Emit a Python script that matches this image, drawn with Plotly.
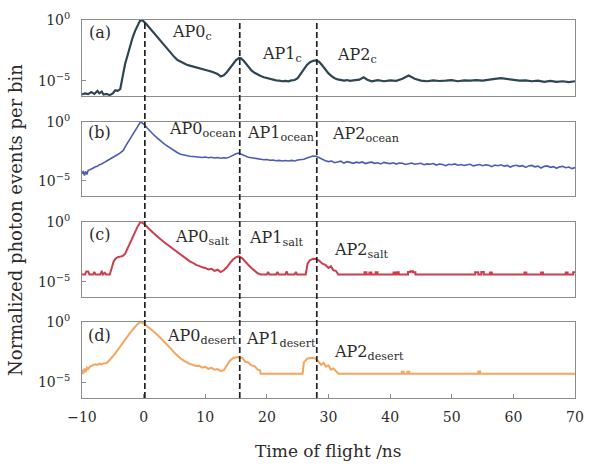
import plotly.graph_objects as go

# ---------------- data: time of flight (ns) and log10(normalized events per bin) ----------------
time_c = [-10.0, -9.5, -9.0, -8.5, -8.0, -7.5, -7.2, -6.8, -6.5, -6.0, -5.5, -5.0, -4.6, -4.2, -3.8,
          -3.4, -3.0, -2.6, -2.2, -1.8, -1.4, -1.0, -0.6, -0.3, 0.0, 0.5, 1.0, 1.5, 2.0, 2.5, 3.0,
          3.5, 4.0, 4.5, 5.0, 5.5, 6.0, 6.5, 7.0, 7.5, 8.0, 8.5, 9.0, 9.5, 10.0, 10.5, 11.0, 11.5,
          12.0, 12.5, 13.0, 13.5, 14.0, 14.5, 15.0, 15.5, 15.8, 16.3, 17.0, 17.5, 18.0, 18.5, 19.0,
          19.5, 20.0, 20.5, 21.0, 21.5, 22.0, 22.5, 23.0, 23.5, 24.0, 24.5, 25.0, 25.5, 26.0, 26.5,
          27.0, 27.5, 28.0, 28.5, 29.0, 29.5, 30.0, 30.5, 31.0, 31.5, 32.0, 32.5, 33.0, 33.5, 34.0,
          35.0, 35.7, 36.3, 37.0, 38.0, 39.0, 40.0, 41.0, 42.0, 43.0, 44.0, 45.0, 46.0, 47.0, 48.0,
          49.0, 50.0, 51.0, 52.0, 53.0, 54.0, 55.0, 56.0, 57.0, 58.0, 59.0, 60.0, 61.0, 62.0, 63.0,
          64.0, 65.0, 66.0, 67.0, 68.0, 69.0, 70.0]
log_c = [-6.15, -6.05, -6.12, -5.95, -6.10, -5.85, -6.05, -5.90, -6.15, -6.10, -6.20, -6.05, -5.80,
         -5.85, -5.70, -4.60, -3.60, -2.90, -2.10, -1.45, -0.90, -0.40, -0.05, 0.0, -0.10, -0.35,
         -0.65, -0.95, -1.25, -1.60, -1.90, -2.20, -2.50, -2.80, -3.05, -3.30, -3.45, -3.58, -3.68,
         -3.76, -3.84, -3.90, -3.97, -4.03, -4.10, -4.18, -4.25, -4.32, -4.45, -4.65, -4.55, -4.30,
         -3.95, -3.60, -3.30, -3.12, -3.15, -3.40, -3.90, -4.15, -4.35, -4.50, -4.62, -4.72, -4.80,
         -4.86, -4.92, -4.98, -5.00, -5.05, -5.02, -5.06, -4.98, -4.95, -4.80, -4.45, -4.05, -3.70,
         -3.48, -3.35, -3.32, -3.45, -3.75, -4.10, -4.40, -4.62, -4.80, -4.90, -4.95, -5.00, -4.95,
         -5.02, -4.98, -4.92, -4.72, -4.92, -5.05, -4.95, -5.05, -4.98, -5.02, -4.85, -4.58, -4.85,
         -5.00, -5.05, -4.98, -5.03, -5.00, -4.95, -5.05, -4.98, -5.00, -4.96, -5.00, -4.90, -4.85,
         -4.80, -4.88, -4.95, -5.00, -4.98, -5.05, -5.00, -5.10, -5.02, -5.10, -5.05, -5.12, -5.05]

time_ocean = [-10.0, -9.8, -9.6, -9.4, -9.2, -9.0, -8.7, -8.4, -8.1, -7.8, -7.5, -7.2, -6.9, -6.6,
              -6.3, -6.0, -5.7, -5.4, -5.1, -4.8, -4.5, -4.2, -3.9, -3.6, -3.3, -3.0, -2.6, -2.2,
              -1.8, -1.4, -1.0, -0.6, -0.4, 0.0, 0.5, 1.0, 1.5, 2.0, 2.5, 3.0, 3.5, 4.0, 4.5, 5.0,
              5.5, 6.0, 6.5, 7.0, 7.5, 8.0, 8.5, 9.0, 9.5, 10.0, 10.5, 11.0, 11.5, 12.0, 12.5, 13.0,
              13.5, 14.0, 14.5, 15.0, 15.4, 15.8, 16.3, 17.0, 17.5, 18.0, 18.5, 19.0, 19.5, 20.0,
              20.5, 21.0, 21.5, 22.0, 22.5, 23.0, 23.5, 24.0, 24.5, 25.0, 25.5, 26.0, 26.5, 27.0,
              27.5, 28.0, 28.5, 29.0, 29.5, 30.0, 30.5, 31.0, 31.5, 32.0, 32.5, 33.0, 33.5, 34.0,
              34.5, 35.0, 35.5, 36.0, 36.5, 37.0, 37.5, 38.0, 38.5, 39.0, 39.5, 40.0, 40.5, 41.0,
              41.5, 42.0, 42.5, 43.0, 43.5, 44.0, 44.5, 45.0, 45.5, 46.0, 46.5, 47.0, 47.5, 48.0,
              48.5, 49.0, 49.5, 50.0, 50.5, 51.0, 51.5, 52.0, 52.5, 53.0, 53.5, 54.0, 54.5, 55.0,
              55.5, 56.0, 56.5, 57.0, 57.5, 58.0, 58.5, 59.0, 59.5, 60.0, 60.5, 61.0, 61.5, 62.0,
              62.5, 63.0, 63.5, 64.0, 64.5, 65.0, 65.5, 66.0, 66.5, 67.0, 67.5, 68.0, 68.5, 69.0,
              69.5, 70.0]
log_ocean = [-4.40, -4.15, -4.55, -4.20, -4.45, -4.10, -4.05, -3.95, -3.90, -3.80, -3.75, -3.62,
             -3.58, -3.45, -3.40, -3.30, -3.22, -3.10, -3.02, -2.95, -2.85, -2.75, -2.65, -2.55,
             -2.40, -2.10, -1.75, -1.40, -1.05, -0.70, -0.35, -0.05, 0.0, -0.15, -0.45, -0.75,
             -1.00, -1.25, -1.50, -1.70, -1.90, -2.08, -2.25, -2.45, -2.60, -2.72, -2.80, -2.86,
             -2.90, -2.92, -2.95, -2.93, -3.00, -2.96, -3.02, -2.98, -3.05, -3.00, -3.06, -3.03,
             -3.05, -2.95, -2.80, -2.68, -2.62, -2.70, -2.85, -2.98, -3.02, -3.08, -3.12, -3.15,
             -3.20, -3.18, -3.24, -3.22, -3.28, -3.25, -3.30, -3.26, -3.30, -3.25, -3.30, -3.22,
             -3.20, -3.15, -3.05, -2.95, -2.88, -2.90, -3.05, -3.20, -3.28, -3.35, -3.30, -3.45,
             -3.38, -3.32, -3.48, -3.36, -3.42, -3.50, -3.40, -3.46, -3.38, -3.52, -3.44, -3.40,
             -3.50, -3.45, -3.55, -3.42, -3.48, -3.52, -3.45, -3.56, -3.48, -3.50, -3.60, -3.52,
             -3.47, -3.58, -3.54, -3.50, -3.62, -3.55, -3.58, -3.52, -3.65, -3.56, -3.60, -3.70,
             -3.58, -3.62, -3.55, -3.66, -3.60, -3.68, -3.62, -3.58, -3.72, -3.64, -3.60, -3.70,
             -3.63, -3.66, -3.78, -3.65, -3.70, -3.62, -3.74, -3.68, -3.82, -3.70, -3.66, -3.76,
             -3.70, -3.85, -3.72, -3.68, -3.80, -3.74, -3.90, -3.76, -3.72, -3.84, -3.78, -3.92,
             -3.80, -3.76, -3.88, -3.82, -3.95, -3.86]

time_salt = [-10.0, -9.5, -9.3, -9.0, -8.8, -8.2, -8.0, -7.8, -7.0, -6.8, -6.6, -6.3, -6.1, -5.5,
             -5.2, -4.9, -4.6, -4.2, -3.8, -3.4, -3.0, -2.6, -2.2, -1.8, -1.4, -1.0, -0.6, -0.4,
             0.0, 0.5, 1.0, 1.5, 2.0, 2.5, 3.0, 3.5, 4.0, 4.5, 5.0, 5.5, 6.0, 6.5, 7.0, 7.5, 8.0,
             8.5, 9.0, 9.5, 10.0, 10.5, 11.0, 11.5, 12.0, 12.5, 13.0, 13.5, 14.0, 14.5, 15.0, 15.5,
             16.0, 16.5, 17.0, 17.5, 18.0, 18.5, 19.0, 20.0, 20.2, 20.4, 21.5, 21.7, 21.9, 23.0,
             23.2, 23.4, 24.5, 24.7, 24.9, 26.3, 26.6, 27.0, 27.5, 28.0, 28.5, 29.0, 29.5, 30.0,
             30.4, 30.8, 31.2, 31.6, 35.85, 35.85, 36.15, 36.15, 36.65, 36.65, 36.95, 36.95, 37.65,
             37.65, 37.95, 37.95, 40.55, 40.55, 40.85, 40.85, 41.1, 41.1, 41.4, 41.4, 42.9, 42.9,
             43.3, 43.3, 43.7, 43.7, 44.1, 44.1, 53.8, 53.8, 54.3, 54.3, 54.8, 54.8, 55.2, 55.2,
             56.2, 56.2, 56.5, 56.5, 61.8, 61.8, 62.1, 62.1, 64.5, 64.5, 64.8, 64.8, 68.5, 68.5,
             68.8, 68.8, 69.7, 69.7, 70.0]
log_salt = [-4.40, -4.40, -4.15, -4.15, -4.40, -4.40, -4.20, -4.40, -4.40, -4.10, -4.40, -4.25,
            -4.40, -4.40, -3.90, -3.35, -3.10, -2.95, -2.90, -2.85, -2.65, -2.20, -1.75, -1.25,
            -0.80, -0.40, -0.05, 0.0, -0.12, -0.40, -0.65, -0.88, -1.10, -1.35, -1.55, -1.75,
            -1.95, -2.15, -2.35, -2.55, -2.75, -2.95, -3.10, -3.30, -3.42, -3.60, -3.68, -3.80,
            -3.85, -3.98, -3.92, -4.10, -4.00, -4.20, -4.05, -3.80, -3.45, -3.15, -2.95, -2.88,
            -3.05, -3.35, -3.60, -3.85, -4.05, -4.30, -4.40, -4.40, -4.20, -4.40, -4.40, -4.20,
            -4.40, -4.40, -4.15, -4.40, -4.40, -4.20, -4.40, -4.40, -3.50, -3.20, -3.08, -3.10,
            -3.25, -3.50, -3.60, -3.85, -3.70, -4.05, -4.10, -4.40, -4.40, -4.22, -4.22, -4.40,
            -4.40, -4.24, -4.24, -4.40, -4.40, -4.22, -4.22, -4.40, -4.40, -4.24, -4.24, -4.40,
            -4.40, -4.22, -4.22, -4.40, -4.40, -4.20, -4.20, -4.12, -4.12, -4.22, -4.22, -4.40,
            -4.40, -4.22, -4.22, -4.40, -4.40, -4.20, -4.20, -4.40, -4.40, -4.24, -4.24, -4.40,
            -4.40, -4.24, -4.24, -4.40, -4.40, -4.24, -4.24, -4.40, -4.40, -4.24, -4.24, -4.40,
            -4.40, -4.22, -4.22]

time_desert = [-10.0, -9.8, -9.6, -9.4, -9.2, -9.0, -8.7, -8.4, -8.1, -7.8, -7.5, -7.2, -6.9, -6.6,
               -6.3, -6.0, -5.7, -5.4, -5.0, -4.6, -4.2, -3.8, -3.4, -3.0, -2.6, -2.2, -1.8, -1.4,
               -1.0, -0.6, -0.4, 0.0, 0.5, 1.0, 1.5, 2.0, 2.5, 3.0, 3.5, 4.0, 4.5, 5.0, 5.5, 6.0,
               6.5, 7.0, 7.5, 8.0, 8.5, 9.0, 9.5, 10.0, 10.5, 11.0, 11.5, 12.0, 12.5, 13.0, 13.5,
               14.0, 14.5, 15.0, 15.5, 16.0, 16.5, 17.0, 17.5, 18.0, 18.5, 18.9, 19.0, 25.8, 26.0,
               26.5, 27.0, 27.5, 28.0, 28.4, 28.8, 29.2, 29.6, 30.0, 30.4, 30.8, 31.2, 31.6, 41.9,
               41.9, 42.2, 42.2, 42.8, 42.8, 43.1, 43.1, 54.3, 54.3, 54.6, 54.6, 70.0]
log_desert = [-3.95, -4.30, -3.85, -4.15, -3.80, -3.90, -3.70, -3.60, -3.55, -3.50, -3.55, -3.45,
              -3.52, -3.45, -3.42, -3.40, -3.25, -3.10, -2.85, -2.60, -2.30, -2.00, -1.75, -1.50,
              -1.20, -0.90, -0.65, -0.40, -0.18, -0.02, 0.0, -0.10, -0.30, -0.50, -0.72, -0.95,
              -1.20, -1.45, -1.72, -2.00, -2.25, -2.55, -2.80, -3.02, -3.20, -3.35, -3.48, -3.55,
              -3.65, -3.62, -3.78, -3.72, -3.88, -3.80, -3.95, -3.90, -4.05, -4.00, -3.55, -3.20,
              -3.00, -2.92, -2.92, -2.98, -3.30, -3.35, -3.60, -3.65, -3.95, -4.00, -4.28, -4.28,
              -3.35, -3.05, -2.98, -2.97, -3.05, -3.30, -3.55, -3.40, -3.70, -3.60, -3.95, -3.85,
              -4.05, -4.28, -4.28, -4.12, -4.12, -4.28, -4.28, -4.12, -4.12, -4.28, -4.28, -4.10,
              -4.10, -4.28, -4.28]

# afterpulse positions (ns)
afterpulse_times = [0.2, 15.6, 28.1]

panel_tags = ["(a)", "(b)", "(c)", "(d)"]
series_names = ["c", "ocean", "salt", "desert"]
line_colors = ["#2d4652", "#4a5cb3", "#cf3c4c", "#f6a55c"]
line_widths = [2.2, 1.6, 2.0, 2.0]

# label anchors: (time, log10 value) for AP0/AP1/AP2 of each panel
ap_label_t = [[4.3, 18.9, 31.1], [3.8, 16.5, 30.3], [4.8, 16.8, 30.6], [3.5, 16.25, 30.6]]
ap_label_v = [[-0.98, -2.86, -2.94], [-0.64, -0.92, -1.03], [-1.27, -1.41, -2.40], [-1.20, -1.47, -2.51]]
tag_v = [-0.98, -0.84, -1.05, -1.12]

x_ticks = [-10, 0, 10, 20, 30, 40, 50, 60, 70]
x_ticktext = ["\u221210", "0", "10", "20", "30", "40", "50", "60", "70"]

times = [time_c, time_ocean, time_salt, time_desert]
logs = [log_c, log_ocean, log_salt, log_desert]

FONT = "DejaVu Serif"
TXT = "#2b2b2b"
domains = [[0.798, 1.0], [0.534, 0.730], [0.267, 0.466], [0.0, 0.2016]]
BOX = "#8c8c8c"

fig = go.Figure()
layout = dict(
    width=594, height=469,
    margin=dict(l=82, r=10, t=16, b=71),
    paper_bgcolor="white", plot_bgcolor="white",
    showlegend=False,
    font=dict(family=FONT, size=15, color=TXT),
)

annotations = []
for i in range(4):
    n = i + 1
    xs = "x" if n == 1 else f"x{n}"
    ys = "y" if n == 1 else f"y{n}"
    fig.add_trace(go.Scatter(
        x=times[i], y=[10 ** v for v in logs[i]], mode="lines",
        line=dict(color=line_colors[i], width=line_widths[i]),
        xaxis=xs, yaxis=ys, hoverinfo="skip",
    ))
    bottom = (n == 4)
    layout[f"xaxis{'' if n == 1 else n}"] = dict(
        range=[-10, 70], domain=[0, 1], anchor=ys,
        showline=True, mirror=True, linecolor=BOX, linewidth=1,
        showgrid=False, zeroline=False,
        tickvals=x_ticks, ticktext=x_ticktext,
        ticks="inside" if bottom else "", ticklen=4, tickcolor=BOX,
        showticklabels=bottom, ticklabelstandoff=6,
        tickfont=dict(family=FONT, size=14, color=TXT),
    )
    layout[f"yaxis{'' if n == 1 else n}"] = dict(
        type="log", range=[-6.3, 0.02], domain=domains[i], anchor=xs,
        showline=True, mirror=True, linecolor=BOX, linewidth=1,
        showgrid=False, zeroline=False,
        tickvals=[1e-5, 1], ticktext=["10<sup>\u22125</sup>", "10<sup>0</sup>"],
        ticks="inside", ticklen=4, tickcolor=BOX, ticklabelstandoff=8,
        tickfont=dict(family=FONT, size=14, color=TXT),
    )
    annotations.append(dict(
        x=-7.1, y=tag_v[i], xref=xs, yref=ys, text=panel_tags[i],
        showarrow=False, xanchor="center", yanchor="middle",
        font=dict(family=FONT, size=16, color=TXT),
    ))
    for k in range(3):
        annotations.append(dict(
            x=ap_label_t[i][k], y=ap_label_v[i][k], xref=xs, yref=ys,
            text=f"AP{k}<sub>{series_names[i]}</sub>",
            showarrow=False, xanchor="left", yanchor="middle",
            font=dict(family=FONT, size=16, color=TXT),
        ))

annotations.append(dict(
    x=0.5, y=-0.141, xref="paper", yref="paper", text="Time of flight /ns",
    showarrow=False, xanchor="center", yanchor="middle",
    font=dict(family=FONT, size=17, color=TXT),
))
annotations.append(dict(
    x=-0.134, y=0.471, xref="paper", yref="paper", text="Normalized photon events per bin",
    textangle=-90, showarrow=False, xanchor="center", yanchor="middle",
    font=dict(family=FONT, size=18, color=TXT),
))

shapes = []
for t in afterpulse_times:
    shapes.append(dict(
        type="line", xref="x4", yref="paper", x0=t, x1=t, y0=0, y1=1,
        line=dict(color="#222222", width=1.7, dash="6px,3px"),
    ))

layout["annotations"] = annotations
layout["shapes"] = shapes
fig.update_layout(**layout)
fig.write_html("out.html")
